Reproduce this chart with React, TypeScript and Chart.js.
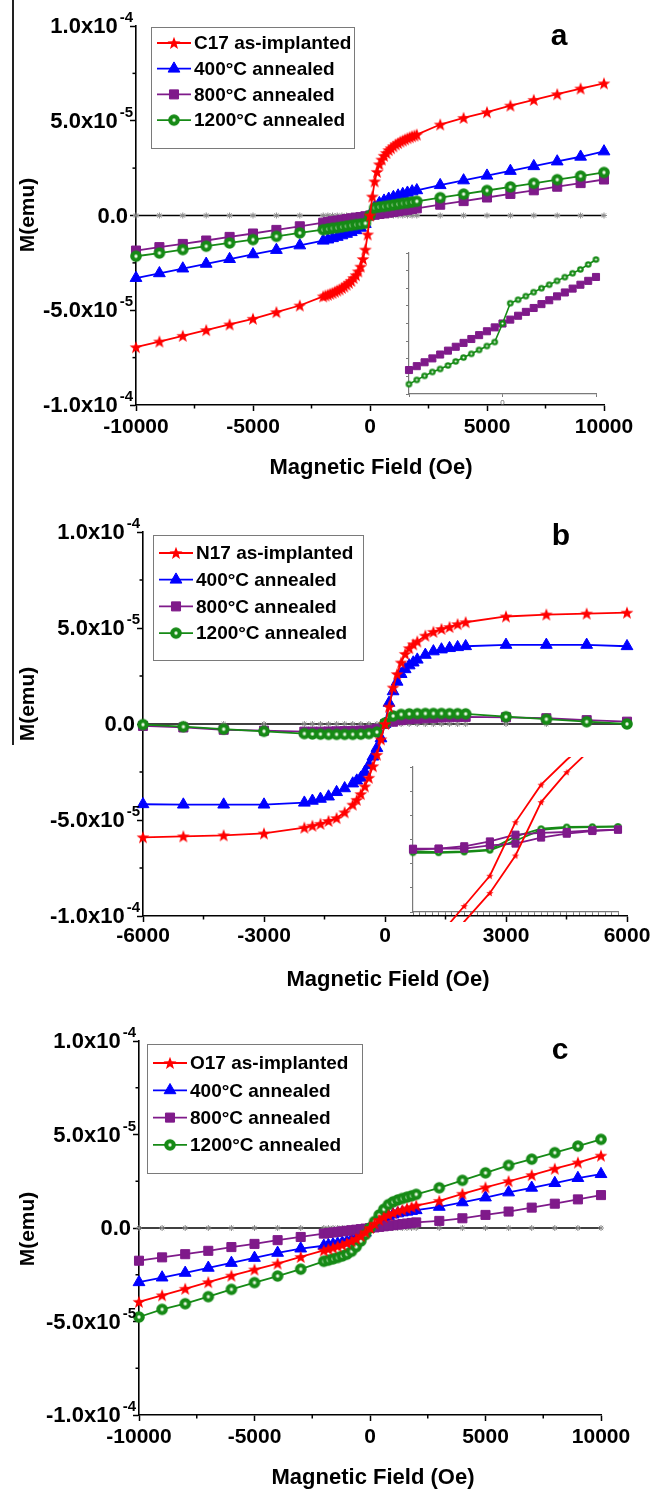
import React, { useEffect, useRef } from 'react';
import { Chart, registerables } from 'chart.js';

Chart.register(...registerables);

const FONT = "'Liberation Sans', Arial, Helvetica, sans-serif";
const RED = '#ff0000';
const BLUE = '#0000ff';
const PURPLE = '#7f1a8a';
const GREEN = '#168a16';
const GREY = '#8a8a8a';

// ---------------- data (M in units of 1e-5 emu, H in Oe) ----------------
const FIELD_WIDE = [-10000, -9000, -8000, -7000, -6000, -5000, -4000, -3000, -2000, -1800, -1600, -1400, -1200, -1000, -800, -600, -400, -200, 0, 200, 400, 600, 800, 1000, 1200, 1400, 1600, 1800, 2000, 3000, 4000, 5000, 6000, 7000, 8000, 9000, 10000];
const FIELD_A_DENSE = [-10000, -9000, -8000, -7000, -6000, -5000, -4000, -3000, -2000, -1900, -1800, -1700, -1600, -1500, -1400, -1300, -1200, -1100, -1000, -900, -800, -700, -600, -500, -400, -300, -200, -100, 0, 100, 200, 300, 400, 500, 600, 700, 800, 900, 1000, 1100, 1200, 1300, 1400, 1500, 1600, 1700, 1800, 1900, 2000, 3000, 4000, 5000, 6000, 7000, 8000, 9000, 10000];

const C17_ASIMPL = [-6.95, -6.65, -6.35, -6.05, -5.75, -5.45, -5.1, -4.75, -4.27, -4.22, -4.18, -4.13, -4.08, -4.02, -3.96, -3.9, -3.82, -3.75, -3.65, -3.55, -3.45, -3.3, -3.15, -2.95, -2.7, -2.3, -1.8, -1.0, 0, 1.0, 1.8, 2.3, 2.7, 2.95, 3.15, 3.3, 3.45, 3.55, 3.65, 3.75, 3.82, 3.9, 3.96, 4.02, 4.08, 4.13, 4.18, 4.22, 4.27, 4.8, 5.15, 5.45, 5.8, 6.1, 6.4, 6.7, 6.97];
const C17_400 = [-3.3, -3.05, -2.8, -2.55, -2.3, -2.05, -1.82, -1.58, -1.33, -1.27, -1.2, -1.13, -1.05, -0.97, -0.88, -0.78, -0.65, -0.45, 0, 0.45, 0.65, 0.78, 0.88, 0.97, 1.05, 1.13, 1.2, 1.27, 1.33, 1.6, 1.85, 2.1, 2.35, 2.6, 2.85, 3.1, 3.38];
const C17_800 = [-1.85, -1.67, -1.5, -1.32, -1.13, -0.95, -0.76, -0.57, -0.38, -0.34, -0.3, -0.27, -0.23, -0.19, -0.15, -0.11, -0.08, -0.04, 0, 0.04, 0.08, 0.11, 0.15, 0.19, 0.23, 0.27, 0.3, 0.34, 0.38, 0.57, 0.76, 0.95, 1.14, 1.33, 1.52, 1.71, 1.9];
const C17_1200 = [-2.15, -1.98, -1.8, -1.62, -1.45, -1.27, -1.1, -0.92, -0.75, -0.71, -0.67, -0.64, -0.6, -0.56, -0.52, -0.48, -0.45, -0.41, 0, 0.41, 0.45, 0.48, 0.52, 0.56, 0.6, 0.64, 0.67, 0.71, 0.75, 0.94, 1.13, 1.32, 1.51, 1.7, 1.89, 2.08, 2.27];
const ZERO_WIDE = [0, 0, 0, 0, 0, 0, 0, 0, 0, 0, 0, 0, 0, 0, 0, 0, 0, 0, 0, 0, 0, 0, 0, 0, 0, 0, 0, 0, 0, 0, 0, 0, 0, 0, 0, 0, 0];

const INSET_A_FIELD = [-1200, -1100, -1000, -900, -800, -700, -600, -500, -400, -300, -200, -100, 0, 100, 200, 300, 400, 500, 600, 700, 800, 900, 1000, 1100, 1200];
const C17_800_INSET = [-2.64, -2.42, -2.2, -1.98, -1.76, -1.54, -1.32, -1.1, -0.88, -0.66, -0.44, -0.22, 0, 0.22, 0.44, 0.66, 0.88, 1.1, 1.32, 1.54, 1.76, 1.98, 2.2, 2.42, 2.64];
const C17_1200_INSET = [-3.44, -3.2, -2.97, -2.75, -2.58, -2.38, -2.15, -1.93, -1.72, -1.5, -1.28, -1.05, 0, 1.15, 1.35, 1.55, 1.78, 2.0, 2.2, 2.42, 2.63, 2.85, 3.07, 3.35, 3.63];

const FIELD_B_FM = [-6000, -5000, -4000, -3000, -2000, -1800, -1600, -1400, -1200, -1000, -800, -700, -600, -500, -400, -300, -200, -100, 0, 100, 200, 300, 400, 500, 600, 700, 800, 1000, 1200, 1400, 1600, 1800, 2000, 3000, 4000, 5000, 6000];
const FIELD_B_PM = [-6000, -5000, -4000, -3000, -2000, -1800, -1600, -1400, -1200, -1000, -800, -600, -400, -200, 0, 200, 400, 600, 800, 1000, 1200, 1400, 1600, 1800, 2000, 3000, 4000, 5000, 6000];
const N17_ASIMPL = [-5.9, -5.85, -5.8, -5.7, -5.4, -5.3, -5.2, -5.05, -4.9, -4.6, -4.2, -3.95, -3.65, -3.25, -2.8, -2.2, -1.6, -0.8, 0, 0.9, 1.9, 2.6, 3.2, 3.65, 3.95, 4.15, 4.3, 4.6, 4.8, 4.95, 5.05, 5.2, 5.3, 5.6, 5.7, 5.75, 5.8];
const N17_400 = [-4.18, -4.2, -4.2, -4.2, -4.1, -4.0, -3.9, -3.78, -3.55, -3.35, -3.1, -2.95, -2.8, -2.5, -2.15, -1.7, -1.25, -0.75, 0, 1.1, 1.7, 2.2, 2.6, 2.85, 3.05, 3.2, 3.35, 3.6, 3.78, 3.88, 3.95, 4.0, 4.05, 4.12, 4.12, 4.12, 4.05];
const N17_800 = [-0.1, -0.18, -0.3, -0.35, -0.4, -0.4, -0.4, -0.39, -0.38, -0.37, -0.36, -0.34, -0.32, -0.25, 0, 0.12, 0.2, 0.25, 0.28, 0.3, 0.32, 0.34, 0.35, 0.36, 0.37, 0.35, 0.3, 0.2, 0.12];
const N17_1200 = [-0.03, -0.14, -0.27, -0.38, -0.5, -0.52, -0.53, -0.54, -0.54, -0.54, -0.54, -0.53, -0.5, -0.42, 0.05, 0.42, 0.5, 0.53, 0.54, 0.55, 0.55, 0.55, 0.54, 0.54, 0.53, 0.38, 0.25, 0.12, 0.0];
const ZERO_B = [0, 0, 0, 0, 0, 0, 0, 0, 0, 0, 0, 0, 0, 0, 0, 0, 0, 0, 0, 0, 0, 0, 0, 0, 0, 0, 0, 0, 0];

const INSET_B_FIELD = [-400, -300, -200, -100, 0, 100, 200, 300, 400];
const N17_LOOP_UP = [-5.5, -4.0, -2.75, -1.5, 0.72, 2.27, 3.3, 4.2, 5.0];
const N17_LOOP_DOWN = [-5.8, -4.6, -3.4, -2.21, -0.66, 1.55, 2.79, 3.8, 4.6];
const N17_800_UP = [-0.38, -0.38, -0.28, -0.08, 0.2, 0.27, 0.31, 0.38, 0.41];
const N17_800_DOWN = [-0.42, -0.38, -0.38, -0.24, -0.17, 0.08, 0.24, 0.35, 0.41];
const N17_1200_UP = [-0.48, -0.52, -0.49, -0.42, 0.13, 0.45, 0.52, 0.53, 0.54];
const N17_1200_DOWN = [-0.55, -0.55, -0.52, -0.45, -0.05, 0.4, 0.49, 0.51, 0.53];

const O17_ASIMPL = [-3.95, -3.6, -3.25, -2.9, -2.55, -2.22, -1.9, -1.55, -1.2, -1.12, -1.05, -0.97, -0.9, -0.8, -0.7, -0.58, -0.43, -0.23, 0, 0.23, 0.43, 0.58, 0.7, 0.8, 0.9, 0.97, 1.05, 1.12, 1.2, 1.45, 1.83, 2.17, 2.5, 2.83, 3.17, 3.5, 3.87];
const O17_400 = [-2.9, -2.65, -2.4, -2.13, -1.87, -1.6, -1.33, -1.1, -0.95, -0.91, -0.87, -0.83, -0.78, -0.72, -0.64, -0.55, -0.42, -0.25, 0, 0.25, 0.42, 0.55, 0.64, 0.72, 0.78, 0.83, 0.87, 0.91, 0.95, 1.13, 1.37, 1.63, 1.9, 2.15, 2.4, 2.67, 2.88];
const O17_800 = [-1.75, -1.57, -1.4, -1.22, -1.02, -0.85, -0.65, -0.48, -0.3, -0.27, -0.24, -0.21, -0.18, -0.15, -0.12, -0.09, -0.06, -0.03, 0, 0.03, 0.06, 0.09, 0.12, 0.15, 0.18, 0.21, 0.24, 0.27, 0.3, 0.38, 0.52, 0.7, 0.88, 1.09, 1.3, 1.53, 1.76];
const O17_1200 = [-4.76, -4.35, -4.05, -3.67, -3.28, -2.92, -2.57, -2.2, -1.78, -1.72, -1.65, -1.58, -1.5, -1.4, -1.25, -1.0, -0.7, -0.35, 0, 0.35, 0.7, 1.0, 1.25, 1.4, 1.5, 1.58, 1.65, 1.72, 1.8, 2.15, 2.55, 2.95, 3.35, 3.68, 4.03, 4.38, 4.74];

const LEGEND_A = ['C17 as-implanted', '400°C annealed', '800°C annealed', '1200°C annealed'];
const LEGEND_B = ['N17 as-implanted', '400°C annealed', '800°C annealed', '1200°C annealed'];
const LEGEND_C = ['O17 as-implanted', '400°C annealed', '800°C annealed', '1200°C annealed'];
const Y_TICK_LABELS = ['-1.0x10^-4', '-5.0x10^-5', '0.0', '5.0x10^-5', '1.0x10^-4'];
const X_TICKS_WIDE = ['-10000', '-5000', '0', '5000', '10000'];
const X_TICKS_B = ['-6000', '-3000', '0', '3000', '6000'];
const X_TITLE = 'Magnetic Field (Oe)';
const Y_TITLE = 'M(emu)';
const PANEL_LETTERS = ['a', 'b', 'c'];

// ---------------- marker images ----------------
function makeStar(outer: number, inner: number, color: string) {
  const s = Math.ceil(outer * 2 + 2);
  const c = document.createElement('canvas');
  c.width = s; c.height = s;
  const g = c.getContext('2d')!;
  const cx = s / 2, cy = s / 2 + 0.5;
  g.beginPath();
  for (let i = 0; i < 10; i++) {
    const r = i % 2 === 0 ? outer : inner;
    const a = -Math.PI / 2 + (i * Math.PI) / 5;
    const px = cx + r * Math.cos(a), py = cy + r * Math.sin(a);
    if (i === 0) g.moveTo(px, py); else g.lineTo(px, py);
  }
  g.closePath();
  g.fillStyle = color;
  g.fill();
  return c;
}
function makeBall(r: number, core: number, color: string) {
  const s = Math.ceil(r * 2 + 2);
  const c = document.createElement('canvas');
  c.width = s; c.height = s;
  const g = c.getContext('2d')!;
  const cx = s / 2, cy = s / 2;
  g.beginPath(); g.arc(cx, cy, r, 0, Math.PI * 2); g.fillStyle = color; g.fill();
  const grad = g.createRadialGradient(cx, cy, 0, cx, cy, core);
  grad.addColorStop(0, '#ffffff'); grad.addColorStop(0.6, '#e0f2da'); grad.addColorStop(1, '#7cc476');
  g.beginPath(); g.arc(cx, cy, core, 0, Math.PI * 2); g.fillStyle = grad; g.fill();
  return c;
}

function drawMarker(ctx: CanvasRenderingContext2D, style: any, x: number, y: number, r: number, color: string) {
  if (typeof style !== 'string') {
    ctx.drawImage(style, x - style.width / 2, y - style.height / 2);
    return;
  }
  ctx.save();
  ctx.fillStyle = color; ctx.strokeStyle = color; ctx.lineWidth = 1;
  ctx.beginPath();
  if (style === 'triangle') {
    let a = 0;
    ctx.moveTo(x + Math.sin(a) * r, y - Math.cos(a) * r);
    a += (2 * Math.PI) / 3; ctx.lineTo(x + Math.sin(a) * r, y - Math.cos(a) * r);
    a += (2 * Math.PI) / 3; ctx.lineTo(x + Math.sin(a) * r, y - Math.cos(a) * r);
    ctx.closePath();
  } else {
    const s = r * Math.SQRT1_2;
    ctx.rect(x - s, y - s, 2 * s, 2 * s);
  }
  ctx.fill(); ctx.stroke();
  ctx.restore();
}

function series(label: string, xs: number[], ys: number[], color: string, style: any, radius: number, order: number, width = 1.8, clip: any = false) {
  return {
    label,
    data: xs.map((x, i) => ({ x, y: ys[i] })),
    showLine: true,
    borderColor: color,
    backgroundColor: color,
    borderWidth: width,
    pointStyle: style,
    pointRadius: radius,
    pointHoverRadius: radius,
    pointBackgroundColor: color,
    pointBorderColor: color,
    pointBorderWidth: 1,
    tension: 0,
    order,
    clip,
  };
}

type Panel = {
  top: number; height: number;
  plotLeft: number; plotRight: number; plotTop: number; plotBottom: number;
  xMin: number; xMax: number; xStep: number; xLabels: string[]; xLabelPad: number;
  yTitleX: number; yTitleY: number; xTitleX: number; xTitleY: number;
  letter: string; letterX: number; letterY: number;
  legend: { x: number; y: number; w: number; h: number; row0: number; rowH: number; labels: string[] };
};

function decorPlugin(p: Panel) {
  return {
    id: 'decor',
    afterDraw(chart: any) {
      const ctx: CanvasRenderingContext2D = chart.ctx;
      const xs = chart.scales.x, ys = chart.scales.y;
      const ca = chart.chartArea;
      const off = p.top;
      ctx.save();
      // minor ticks
      ctx.strokeStyle = '#000'; ctx.lineWidth = 1.5;
      const xv = xs.ticks.map((t: any) => t.value);
      for (let i = 0; i < xv.length - 1; i++) {
        const px = xs.getPixelForValue((xv[i] + xv[i + 1]) / 2);
        ctx.beginPath(); ctx.moveTo(px, ca.bottom); ctx.lineTo(px, ca.bottom + 3.5); ctx.stroke();
      }
      const yv = ys.ticks.map((t: any) => t.value);
      for (let i = 0; i < yv.length - 1; i++) {
        const py = ys.getPixelForValue((yv[i] + yv[i + 1]) / 2);
        ctx.beginPath(); ctx.moveTo(ca.left, py); ctx.lineTo(ca.left - 3.5, py); ctx.stroke();
      }
      // y tick labels with superscript
      ctx.fillStyle = '#000';
      ctx.textBaseline = 'middle';
      ctx.textAlign = 'right';
      ys.ticks.forEach((t: any, i: number) => {
        const py = ys.getPixelForValue(t.value);
        const parts = Y_TICK_LABELS[i].split('^');
        if (parts.length === 2) {
          ctx.font = `bold 15px ${FONT}`;
          const right = ca.left - 3;
          ctx.fillText(parts[1], right, py - 8);
          const ew = ctx.measureText(parts[1]).width;
          ctx.font = `bold 22px ${FONT}`;
          ctx.fillText(parts[0], right - ew - 2, py + 1);
        } else {
          ctx.font = `bold 22px ${FONT}`;
          ctx.fillText(parts[0], ca.left - 8, py + 1);
        }
      });
      // axis titles
      ctx.textAlign = 'center';
      ctx.font = `bold 22px ${FONT}`;
      ctx.fillText(X_TITLE, p.xTitleX, p.xTitleY - off);
      ctx.save();
      ctx.translate(p.yTitleX, p.yTitleY - off);
      ctx.rotate(-Math.PI / 2);
      ctx.font = `bold 21px ${FONT}`;
      ctx.fillText(Y_TITLE, 0, 0);
      ctx.restore();
      // panel letter
      ctx.textBaseline = 'alphabetic';
      ctx.font = `bold 30px ${FONT}`;
      ctx.fillText(p.letter, p.letterX, p.letterY - off);
      // legend
      const L = p.legend;
      ctx.fillStyle = '#fff';
      ctx.fillRect(L.x, L.y - off, L.w, L.h);
      ctx.strokeStyle = '#7a7a7a'; ctx.lineWidth = 1;
      ctx.strokeRect(L.x + 0.5, L.y - off + 0.5, L.w, L.h);
      ctx.textAlign = 'left';
      ctx.textBaseline = 'middle';
      ctx.font = `bold 19px ${FONT}`;
      L.labels.forEach((lab, i) => {
        const ds = chart.data.datasets[i];
        const y = L.row0 + i * L.rowH - off;
        ctx.strokeStyle = ds.borderColor; ctx.lineWidth = 1.8;
        ctx.beginPath(); ctx.moveTo(L.x + 6, y); ctx.lineTo(L.x + 40, y); ctx.stroke();
        drawMarker(ctx, ds.pointStyle, L.x + 23, y, ds.pointRadius, ds.borderColor);
        ctx.fillStyle = '#000';
        ctx.fillText(lab, L.x + 43, y + 1);
      });
      ctx.restore();
    },
  };
}

function mainOptions(p: Panel) {
  const tickFont = { family: FONT, size: 21, weight: 'bold' };
  return {
    responsive: false,
    animation: false,
    devicePixelRatio: 1,
    events: [],
    layout: { padding: { left: 0, top: p.plotTop - p.top, right: 662 - p.plotRight, bottom: 0 } },
    plugins: { legend: { display: false }, tooltip: { enabled: false }, title: { display: false } },
    scales: {
      x: {
        type: 'linear', position: 'bottom', min: p.xMin, max: p.xMax,
        afterFit: (s: any) => { s.height = p.top + p.height - p.plotBottom; },
        ticks: {
          stepSize: p.xStep, autoSkip: false, maxRotation: 0, minRotation: 0,
          padding: p.xLabelPad, color: '#000', font: tickFont,
          callback: (_v: any, i: number) => p.xLabels[i],
        },
        grid: { display: true, drawOnChartArea: false, drawTicks: true, tickLength: 6, tickWidth: 1.5, tickColor: '#000' },
        border: { display: true, color: '#000', width: 1.6 },
      },
      y: {
        type: 'linear', position: 'left', min: -10, max: 10,
        afterFit: (s: any) => { s.width = p.plotLeft; },
        ticks: { stepSize: 5, display: false },
        grid: { display: true, drawOnChartArea: false, drawTicks: true, tickLength: 6, tickWidth: 1.5, tickColor: '#000' },
        border: { display: true, color: '#000', width: 1.6 },
      },
    },
  };
}

function insetOptions(o: { xMin: number; xMax: number; xStep: number; yMin: number; yMax: number; yStep: number; yWidth: number; xHeight: number; padTop: number; padRight: number; showZero: boolean }) {
  const axisGrey = '#7a7a7a';
  return {
    responsive: false,
    animation: false,
    devicePixelRatio: 1,
    events: [],
    layout: { padding: { left: 0, top: o.padTop, right: o.padRight, bottom: 0 } },
    plugins: { legend: { display: false }, tooltip: { enabled: false } },
    scales: {
      x: {
        type: 'linear', min: o.xMin, max: o.xMax,
        afterFit: (s: any) => { s.height = o.xHeight; },
        ticks: {
          stepSize: o.xStep, includeBounds: false, autoSkip: false, maxRotation: 0,
          display: o.showZero, padding: 1, color: '#666', font: { family: FONT, size: 8 },
          callback: (v: any) => (v === 0 ? '0' : ''),
        },
        grid: { display: true, drawOnChartArea: false, drawTicks: true, tickLength: 3, tickWidth: 1, tickColor: axisGrey },
        border: { display: true, color: axisGrey, width: 1.2 },
      },
      y: {
        type: 'linear', min: o.yMin, max: o.yMax,
        afterFit: (s: any) => { s.width = o.yWidth; },
        ticks: { stepSize: o.yStep, display: false, includeBounds: false },
        grid: { display: true, drawOnChartArea: false, drawTicks: true, tickLength: 3, tickWidth: 1, tickColor: axisGrey },
        border: { display: true, color: axisGrey, width: 1.2 },
      },
    },
  };
}

const PANEL_A: Panel = {
  top: 0, height: 490, plotLeft: 136, plotRight: 604, plotTop: 26, plotBottom: 405,
  xMin: -10000, xMax: 10000, xStep: 5000, xLabels: X_TICKS_WIDE, xLabelPad: 4,
  yTitleX: 28, yTitleY: 215, xTitleX: 371, xTitleY: 468,
  letter: PANEL_LETTERS[0], letterX: 559, letterY: 45,
  legend: { x: 151, y: 27, w: 203, h: 121, row0: 43, rowH: 25.7, labels: LEGEND_A },
};
const PANEL_B: Panel = {
  top: 490, height: 510, plotLeft: 143, plotRight: 627, plotTop: 532, plotBottom: 916,
  xMin: -6000, xMax: 6000, xStep: 3000, xLabels: X_TICKS_B, xLabelPad: 2,
  yTitleX: 28, yTitleY: 704, xTitleX: 388, xTitleY: 980,
  letter: PANEL_LETTERS[1], letterX: 561, letterY: 545,
  legend: { x: 153, y: 535, w: 210, h: 125, row0: 553, rowH: 26.7, labels: LEGEND_B },
};
const PANEL_C: Panel = {
  top: 1000, height: 489, plotLeft: 139, plotRight: 601, plotTop: 1041, plotBottom: 1415,
  xMin: -10000, xMax: 10000, xStep: 5000, xLabels: X_TICKS_WIDE, xLabelPad: 4,
  yTitleX: 28, yTitleY: 1229, xTitleX: 373, xTitleY: 1478,
  letter: PANEL_LETTERS[2], letterX: 560, letterY: 1059,
  legend: { x: 147, y: 1044, w: 215, h: 129, row0: 1063, rowH: 27.3, labels: LEGEND_C },
};

export default function App() {
  const refA = useRef<HTMLCanvasElement>(null);
  const refB = useRef<HTMLCanvasElement>(null);
  const refC = useRef<HTMLCanvasElement>(null);
  const refIA = useRef<HTMLCanvasElement>(null);
  const refIB = useRef<HTMLCanvasElement>(null);

  useEffect(() => {
    const star = makeStar(6.8, 2.8, RED);
    const ball = makeBall(5.8, 1.9, GREEN);
    const smallBall = makeBall(3.3, 1.2, GREEN);
    const tinyStar = makeStar(3.8, 1.6, RED);
    const charts: any[] = [];

    const build = (ref: any, p: Panel, red: any[], blue: any[], purple: any[], green: any[], base: any[]) => {
      const labels = p.legend.labels;
      const datasets = [
        series(labels[0], red[0], red[1], RED, star, 6.5, 0),
        series(labels[1], blue[0], blue[1], BLUE, 'triangle', 6.8, 3),
        series(labels[2], purple[0], purple[1], PURPLE, 'rect', 6.4, 2),
        series(labels[3], green[0], green[1], GREEN, ball, 5.8, 1),
        { ...series('reference', base[0], base[1], '#000', 'star', 3, 10, 1.6), pointBorderColor: GREY, pointBackgroundColor: GREY },
      ];
      charts.push(new Chart(ref.current, {
        type: 'scatter',
        data: { datasets } as any,
        options: mainOptions(p) as any,
        plugins: [decorPlugin(p)],
      }));
    };

    build(refA, PANEL_A, [FIELD_A_DENSE, C17_ASIMPL], [FIELD_WIDE, C17_400], [FIELD_WIDE, C17_800], [FIELD_WIDE, C17_1200], [FIELD_WIDE, ZERO_WIDE]);
    build(refB, PANEL_B, [FIELD_B_FM, N17_ASIMPL], [FIELD_B_FM, N17_400], [FIELD_B_PM, N17_800], [FIELD_B_PM, N17_1200], [FIELD_B_PM, ZERO_B]);
    build(refC, PANEL_C, [FIELD_WIDE, O17_ASIMPL], [FIELD_WIDE, O17_400], [FIELD_WIDE, O17_800], [FIELD_WIDE, O17_1200], [FIELD_WIDE, ZERO_WIDE]);

    // inset of panel a
    charts.push(new Chart(refIA.current!, {
      type: 'scatter',
      data: {
        datasets: [
          series(LEGEND_A[3], INSET_A_FIELD, C17_1200_INSET, GREEN, smallBall, 3.3, 0, 1.6),
          series(LEGEND_A[2], INSET_A_FIELD, C17_800_INSET, PURPLE, 'rect', 5, 1, 2),
        ],
      } as any,
      options: insetOptions({ xMin: -1200, xMax: 1200, xStep: 1000, yMin: -4, yMax: 4, yStep: 1, yWidth: 14, xHeight: 14, padTop: 10, padRight: 14, showZero: true }) as any,
    }));

    // inset of panel b
    charts.push(new Chart(refIB.current!, {
      type: 'scatter',
      data: {
        datasets: [
          series(LEGEND_B[0], INSET_B_FIELD, N17_LOOP_UP, RED, tinyStar, 3.8, 0, 1.8, undefined),
          series(LEGEND_B[0], INSET_B_FIELD, N17_LOOP_DOWN, RED, tinyStar, 3.8, 0, 1.8, undefined),
          series(LEGEND_B[2], INSET_B_FIELD, N17_800_UP, PURPLE, 'rect', 5, 1, 1.8),
          series(LEGEND_B[2], INSET_B_FIELD, N17_800_DOWN, PURPLE, 'rect', 5, 1, 1.8),
          series(LEGEND_B[3], INSET_B_FIELD, N17_1200_UP, GREEN, smallBall, 3.3, 2, 1.8),
          series(LEGEND_B[3], INSET_B_FIELD, N17_1200_DOWN, GREEN, smallBall, 3.3, 2, 1.8),
        ],
      } as any,
      options: insetOptions({ xMin: -400, xMax: 400, xStep: 25, yMin: -3, yMax: 3, yStep: 1, yWidth: 13, xHeight: 10, padTop: 10, padRight: 12, showZero: false }) as any,
    }));

    return () => { charts.forEach((c) => c.destroy()); };
  }, []);

  const abs = (l: number, t: number): React.CSSProperties => ({ position: 'absolute', left: l, top: t });
  return (
    <div style={{ position: 'absolute', left: 0, top: 0, width: 662, height: 1489, background: '#fff', overflow: 'hidden' }}>
      <div style={{ position: 'absolute', left: 12, top: 0, width: 1.5, height: 745, background: '#222' }} />
      <canvas ref={refA} width={662} height={490} style={abs(0, 0)} />
      <canvas ref={refB} width={662} height={510} style={abs(0, 490)} />
      <canvas ref={refC} width={662} height={489} style={abs(0, 1000)} />
      <canvas ref={refIA} width={215} height={165} style={abs(395, 243)} />
      <canvas ref={refIB} width={230} height={165} style={abs(400, 757)} />
    </div>
  );
}
